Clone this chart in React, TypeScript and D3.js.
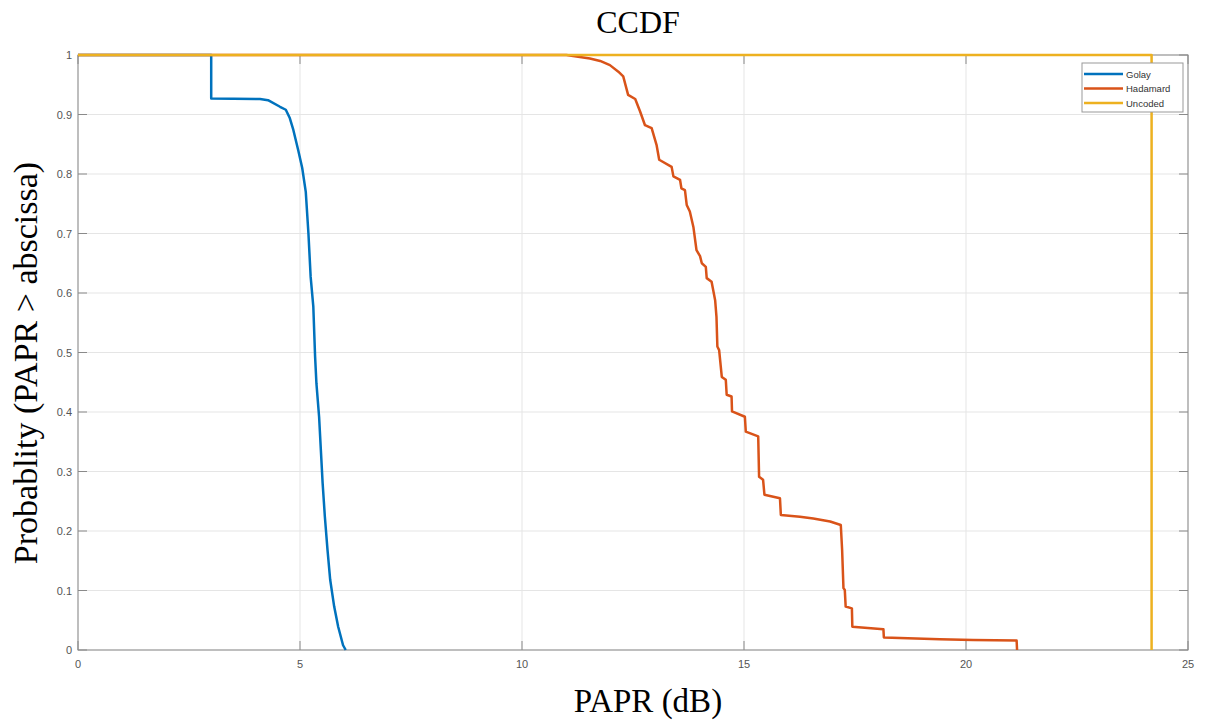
import React from "react";
import * as d3 from "d3";

const title = "CCDF";
const xLabel = "PAPR (dB)";
const yLabel = "Probablity (PAPR > abscissa)";
const xTicks = [0, 5, 10, 15, 20, 25];
const yTicks = [0, 0.1, 0.2, 0.3, 0.4, 0.5, 0.6, 0.7, 0.8, 0.9, 1];
const seriesNames = ["Golay", "Hadamard", "Uncoded"];
const seriesColors = ["#0072BD", "#D95319", "#EDB120"];

const golayX = [0, 3.0, 3.0, 4.1, 4.28, 4.55, 4.68, 4.77, 4.85, 4.96, 5.05, 5.13, 5.19, 5.24, 5.30, 5.34, 5.37, 5.43, 5.47, 5.51, 5.56, 5.62, 5.68, 5.77, 5.86, 5.97, 6.03];
const golayY = [1, 1, 0.927, 0.926, 0.924, 0.913, 0.908, 0.894, 0.874, 0.840, 0.810, 0.770, 0.700, 0.627, 0.577, 0.493, 0.448, 0.392, 0.336, 0.280, 0.224, 0.168, 0.118, 0.073, 0.039, 0.008, 0];

const hadamardX = [0, 11.0, 11.53, 11.76, 11.98, 12.17, 12.28, 12.39, 12.55, 12.66, 12.77, 12.92, 13.03, 13.09, 13.37, 13.41, 13.56, 13.59, 13.67, 13.71, 13.78, 13.86, 13.93, 14.01, 14.05, 14.14, 14.16, 14.27, 14.35, 14.38, 14.40, 14.44, 14.50, 14.59, 14.61, 14.72, 14.73, 15.02, 15.04, 15.32, 15.34, 15.43, 15.46, 15.81, 15.83, 16.26, 16.56, 16.94, 17.18, 17.21, 17.24, 17.27, 17.29, 17.43, 17.44, 18.14, 18.15, 19.41, 20.16, 21.14, 21.15];
const hadamardY = [1, 1, 0.994, 0.990, 0.983, 0.972, 0.964, 0.933, 0.926, 0.905, 0.882, 0.877, 0.849, 0.824, 0.812, 0.796, 0.790, 0.776, 0.773, 0.748, 0.737, 0.711, 0.672, 0.662, 0.650, 0.644, 0.625, 0.619, 0.588, 0.560, 0.510, 0.504, 0.459, 0.454, 0.429, 0.426, 0.401, 0.392, 0.367, 0.359, 0.291, 0.286, 0.261, 0.255, 0.227, 0.224, 0.221, 0.216, 0.210, 0.168, 0.104, 0.101, 0.073, 0.070, 0.039, 0.035, 0.021, 0.018, 0.017, 0.016, 0];

const uncodedX = [0, 24.18, 24.18];
const uncodedY = [1, 1, 0];

const W = 1208, H = 724;
const L = 78, R = 1188, T = 55, B = 650;

export default function App() {
  const x = d3.scaleLinear().domain([0, 25]).range([L, R]);
  const y = d3.scaleLinear().domain([0, 1]).range([B, T]);
  const line = d3.line<[number, number]>().x(d => x(d[0])).y(d => y(d[1]));
  const series = [
    golayX.map((v, i) => [v, golayY[i]] as [number, number]),
    hadamardX.map((v, i) => [v, hadamardY[i]] as [number, number]),
    uncodedX.map((v, i) => [v, uncodedY[i]] as [number, number]),
  ];
  const tickFont = "Liberation Sans, Arial, sans-serif";
  const serif = "Liberation Serif, Times New Roman, serif";
  const axisColor = "#8a8a8a";
  const lx = 1082, ly = 63, lw = 101, lh = 49;
  return (
    <svg width={W} height={H} style={{ position: "absolute", left: 0, top: 0, background: "#fff" }}>
      <rect x={0} y={0} width={W} height={H} fill="#fff" />
      {/* grid */}
      {xTicks.map(t => (
        <line key={"gx" + t} x1={x(t)} x2={x(t)} y1={T} y2={B} stroke="#e5e5e5" strokeWidth={1} />
      ))}
      {yTicks.map(t => (
        <line key={"gy" + t} x1={L} x2={R} y1={y(t)} y2={y(t)} stroke="#e5e5e5" strokeWidth={1} />
      ))}
      {/* box */}
      <rect x={L} y={T} width={R - L} height={B - T} fill="none" stroke={axisColor} strokeWidth={1} />
      {/* ticks */}
      {xTicks.map(t => (
        <g key={"tx" + t}>
          <line x1={x(t)} x2={x(t)} y1={B} y2={B - 9} stroke={axisColor} />
          <line x1={x(t)} x2={x(t)} y1={T} y2={T + 9} stroke={axisColor} />
          <text x={x(t)} y={B + 18} textAnchor="middle" fontFamily={tickFont} fontSize={11} fill="#555">{t}</text>
        </g>
      ))}
      {yTicks.map(t => (
        <g key={"ty" + t}>
          <line x1={L} x2={L + 9} y1={y(t)} y2={y(t)} stroke={axisColor} />
          <line x1={R} x2={R - 9} y1={y(t)} y2={y(t)} stroke={axisColor} />
          <text x={L - 6} y={y(t) + 4} textAnchor="end" fontFamily={tickFont} fontSize={11} fill="#555">{d3.format("~g")(t)}</text>
        </g>
      ))}
      {/* series */}
      {series.map((s, i) => (
        <path key={"s" + i} d={line(s) || ""} fill="none" stroke={seriesColors[i]} strokeWidth={2.5} strokeLinejoin="round" />
      ))}
      {/* legend */}
      <rect x={lx} y={ly} width={lw} height={lh} fill="#fff" stroke="#999" strokeWidth={1} />
      {seriesNames.map((n, i) => (
        <g key={"l" + i}>
          <line x1={lx + 2} x2={lx + 41} y1={ly + 11 + i * 14.5} y2={ly + 11 + i * 14.5} stroke={seriesColors[i]} strokeWidth={2.5} />
          <text x={lx + 44} y={ly + 14.5 + i * 14.5} fontFamily={tickFont} fontSize={9.5} fill="#333">{n}</text>
        </g>
      ))}
      {/* titles */}
      <text x={638} y={33} textAnchor="middle" fontFamily={serif} fontSize={32} fill="#000">{title}</text>
      <text x={648} y={712} textAnchor="middle" fontFamily={serif} fontSize={33} fill="#000">{xLabel}</text>
      <text transform={`translate(37, 363) rotate(-90)`} textAnchor="middle" fontFamily={serif} fontSize={34} fill="#000">{yLabel}</text>
    </svg>
  );
}
